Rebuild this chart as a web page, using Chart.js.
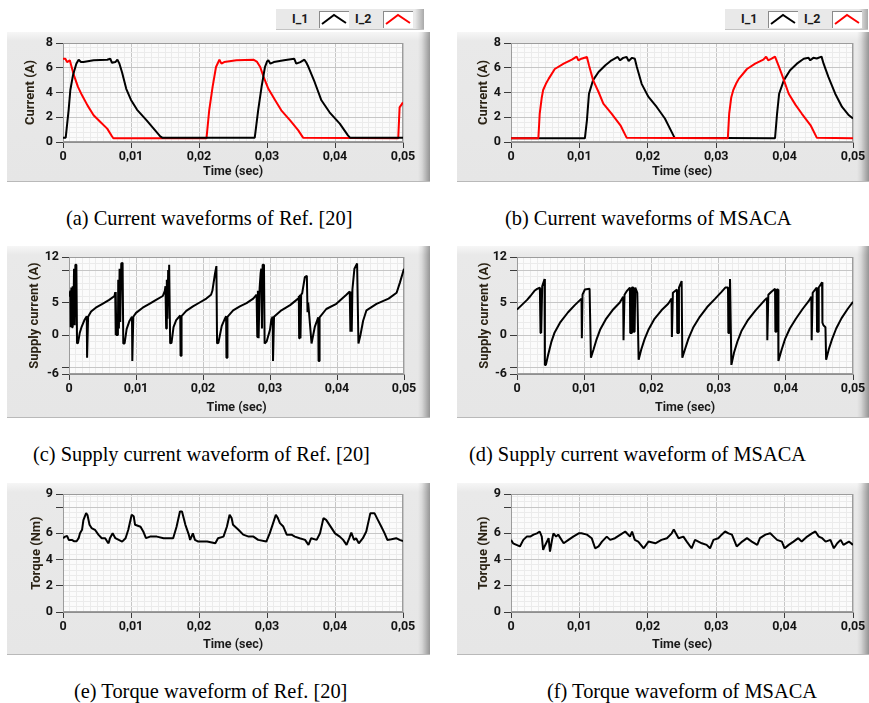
<!DOCTYPE html>
<html><head><meta charset="utf-8">
<script src="https://cdn.jsdelivr.net/npm/chart.js@4.4.1/dist/chart.umd.min.js"></script>
<style>
html,body{margin:0;padding:0;background:#fff}
body{width:869px;height:703px;position:relative;overflow:hidden}
.panel{position:absolute;background:linear-gradient(to right,rgba(0,0,0,0) calc(100% - 12px),rgba(0,0,0,0.07) calc(100% - 8px),rgba(0,0,0,0.36) 100%),linear-gradient(to bottom,#f6f6f6 0px,#e9e9e9 9px,#e6e6e6 100%);box-shadow:inset 0 -1px 0 #b9b9b9}
.panel canvas{position:absolute;left:0;top:0}
.cap{position:absolute;font-family:"Liberation Serif","Times New Roman",serif;font-size:20.4px;color:#000;white-space:nowrap;line-height:1}
.lg{position:absolute;height:21px;background:linear-gradient(to right,#e9e9e9 calc(100% - 9px),#a9a9a9 100%);box-shadow:inset 0 -1px 0 #c4c4c4}
.lt{position:absolute;top:2px;font:bold 12.5px Roboto,sans-serif;color:#1a1a1a}
.lb{position:absolute;top:2px;width:30px;height:17px;background:#fff;box-shadow:inset 1px 1px 0 #8a8a8a}
.lb svg{position:absolute;left:0;top:0}
</style></head>
<body>
<div class="lg" style="left:276px;top:9px;width:148px">
  <span class="lt" style="left:16px">I_1</span>
  <div class="lb" style="left:43px"><svg width="30" height="17"><polyline points="3,13 15,4 27,12" fill="none" stroke="#000" stroke-width="2"/></svg></div>
  <span class="lt" style="left:79px">I_2</span>
  <div class="lb" style="left:107px"><svg width="30" height="17"><polyline points="3,13 15,4 27,12" fill="none" stroke="#f00" stroke-width="2"/></svg></div>
</div>
<div class="lg" style="left:725px;top:9px;width:143px">
  <span class="lt" style="left:16px">I_1</span>
  <div class="lb" style="left:43px"><svg width="30" height="17"><polyline points="3,13 15,4 27,12" fill="none" stroke="#000" stroke-width="2"/></svg></div>
  <span class="lt" style="left:79px">I_2</span>
  <div class="lb" style="left:107px"><svg width="30" height="17"><polyline points="3,13 15,4 27,12" fill="none" stroke="#f00" stroke-width="2"/></svg></div>
</div>

<div class="panel" id="pa"><canvas id="ca"></canvas></div>
<div class="panel" id="pb"><canvas id="cb"></canvas></div>
<div class="panel" id="pc"><canvas id="cc"></canvas></div>
<div class="panel" id="pd"><canvas id="cd"></canvas></div>
<div class="panel" id="pe"><canvas id="ce"></canvas></div>
<div class="panel" id="pf"><canvas id="cf"></canvas></div>

<div class="cap" style="left:66px;top:208px">(a) Current waveforms of Ref. [20]</div>
<div class="cap" style="left:505px;top:208px">(b) Current waveforms of MSACA</div>
<div class="cap" style="left:33px;top:444px">(c) Supply current waveform of Ref. [20]</div>
<div class="cap" style="left:469px;top:444px">(d) Supply current waveform of MSACA</div>
<div class="cap" style="left:74px;top:681px">(e) Torque waveform of Ref. [20]</div>
<div class="cap" style="left:547px;top:681px">(f) Torque waveform of MSACA</div>

<script>
// ---------- axis ticks ----------
const xTickValues = [0, 0.01, 0.02, 0.03, 0.04, 0.05];
const xTickLabels = ['0', '0,01', '0,02', '0,03', '0,04', '0,05'];
const curTickValues = [0, 2, 4, 6, 8];
const curTickLabels = ['0', '2', '4', '6', '8'];
const supTickValues = [-6, -5, 0, 5, 10, 12];
const supTickLabels = ['-6', '', '0', '5', '', '12'];
const torTickValues = [0, 2, 4, 6, 8, 9];
const torTickLabels = ['0', '2', '4', '6', '', '9'];

// ---------- data: [time (ms), value] ----------
// (a) Ref. [20] phase currents
const refI1 = [[0,0.35],[0.4,0.35],[0.83,2.6],[1.08,4.2],[1.47,5.4],[1.96,6.33],[2.3,6.65],[2.64,6.46],[3.0,6.46],[4.5,6.6],[6.5,6.65],[6.95,6.73],[7.2,6.4],[7.7,6.46],[8.0,6.65],[8.3,6.33],[8.7,5.6],[9.3,4.3],[10.0,3.4],[10.9,2.6],[12.3,1.75],[13.3,1.1],[14.3,0.45],[14.6,0.35],[28.2,0.35],[28.7,2.56],[29.2,4.45],[29.7,6.06],[30.0,6.5],[30.2,6.6],[30.5,6.33],[31.0,6.46],[32.5,6.6],[34.0,6.73],[34.3,6.33],[34.9,6.46],[35.5,6.65],[35.8,6.4],[36.1,6.06],[37.0,4.85],[38.0,3.37],[39.2,2.4],[40.7,1.48],[41.9,0.54],[42.2,0.35],[50,0.35]];
const refI2 = [[0,6.73],[0.34,6.73],[0.6,6.46],[1.0,6.6],[1.2,6.2],[1.6,5.4],[2.2,4.45],[2.8,3.77],[3.6,2.96],[4.5,2.16],[5.5,1.62],[6.5,1.08],[7.2,0.46],[7.4,0.3],[21.1,0.3],[21.5,2.56],[22.0,4.45],[22.5,6.06],[23.0,6.65],[23.3,6.33],[23.7,6.46],[25.5,6.6],[28.0,6.65],[28.5,6.5],[29.0,6.06],[29.5,5.26],[30.2,4.3],[31.2,3.37],[32.1,2.56],[33.4,1.75],[34.6,0.94],[35.3,0.35],[49.3,0.3],[49.5,2.8],[50,3.2]];
// (b) MSACA phase currents
const msaI1 = [[0,0.3],[10.8,0.3],[11.1,1.75],[11.4,3.9],[12.0,5.0],[12.8,5.66],[13.8,6.2],[14.7,6.6],[15.6,6.87],[15.95,6.6],[16.4,6.8],[16.9,6.87],[17.2,6.55],[17.7,6.8],[18.1,6.73],[18.4,6.06],[19.1,4.7],[20.1,3.64],[21.3,2.83],[22.5,1.9],[23.5,0.8],[23.9,0.35],[38.6,0.3],[38.9,2.3],[39.2,3.9],[39.9,5.0],[40.8,5.8],[41.8,6.33],[42.8,6.73],[43.5,6.8],[43.75,6.6],[44.2,6.8],[44.7,6.75],[45.4,6.9],[45.7,6.33],[46.4,5.26],[47.4,3.9],[48.4,2.83],[49.4,2.16],[50,1.9]];
const msaI2 = [[0,0.3],[4.0,0.3],[4.2,2.3],[4.5,3.6],[4.7,4.2],[5.1,4.7],[5.5,5.1],[6.4,5.9],[7.7,6.33],[8.9,6.65],[9.6,6.9],[9.85,6.6],[10.3,6.73],[11.1,6.87],[11.4,6.2],[12.0,5.0],[12.8,4.04],[13.5,3.1],[14.7,2.3],[16.0,1.35],[16.9,0.35],[31.7,0.3],[31.9,2.3],[32.2,3.6],[32.5,4.2],[32.9,4.7],[33.3,5.1],[34.5,5.9],[35.7,6.33],[36.9,6.65],[37.3,6.9],[37.6,6.6],[38.1,6.73],[38.6,6.9],[39.1,6.2],[39.9,5.0],[40.6,3.9],[41.6,3.0],[42.5,2.3],[43.8,1.35],[44.7,0.35],[50,0.3]];
// (c) Ref. [20] supply current
const refSupply = [[0,5.9],[0.2,6.8],[0.25,1.2],[0.35,7.3],[0.45,1.2],[0.55,7.5],[0.65,1.5],[0.75,10.2],[0.85,1.5],[0.95,10.8],[1.1,10.8],[1.2,-1.3],[1.35,-1.2],[1.6,0.3],[1.9,1.3],[2.3,2.3],[2.65,2.9],[2.7,-3.5],[2.8,-3.5],[2.85,2.8],[3.3,3.6],[4.0,4.2],[5.0,4.8],[6.0,5.4],[6.8,6.0],[6.9,6.6],[6.95,0],[7.0,6.6],[7.05,0],[7.3,0],[7.35,8.5],[7.45,1.0],[7.55,10.2],[7.65,2.0],[7.8,11.0],[8.0,11.1],[8.1,-1.3],[8.3,-1.3],[8.6,0.9],[9.0,2.1],[9.4,2.8],[9.45,-4.0],[9.55,-4.0],[9.6,2.8],[10.0,3.4],[11.0,4.2],[12.0,4.8],[13.0,5.4],[14.0,6.0],[14.3,6.8],[14.4,7.5],[14.5,1.0],[14.6,8.5],[14.7,2.5],[14.8,10.0],[14.9,5.0],[14.95,10.8],[15.0,10.8],[15.1,-1.3],[15.3,-1.2],[15.6,1.2],[16.0,2.3],[16.6,3.0],[16.65,-3.2],[16.75,-3.2],[16.8,2.9],[17.5,3.7],[18.5,4.4],[19.5,5.0],[20.5,5.6],[21.2,6.2],[21.4,6.8],[21.8,9.5],[22.0,10.6],[22.1,-1.3],[22.3,-1.2],[22.8,1.4],[23.3,2.6],[23.45,2.9],[23.5,-3.5],[23.6,-3.5],[23.65,2.8],[24.5,3.8],[25.5,4.4],[26.5,4.9],[27.5,5.6],[28.0,6.2],[28.1,-0.3],[28.2,6.8],[28.3,-0.5],[28.45,7.2],[28.6,9.5],[28.7,10.2],[28.8,1.0],[28.9,10.8],[29.1,10.8],[29.2,-1.3],[29.5,-1.0],[30.0,0.8],[30.2,2.4],[30.4,2.8],[30.45,-4.0],[30.55,-4.0],[30.6,2.8],[31.7,3.8],[33.0,4.6],[34.2,5.6],[34.3,6.0],[34.35,-0.5],[34.45,6.2],[34.55,-0.5],[34.65,6.2],[34.8,6.4],[35.2,8.9],[35.5,9.1],[35.6,3.5],[35.7,5.0],[36.2,-1.3],[36.7,1.3],[37.2,2.7],[37.25,-4.0],[37.35,-4.0],[37.4,2.7],[38.4,4.0],[39.9,4.8],[41.4,6.2],[41.9,6.7],[42.0,0.5],[42.1,6.7],[42.2,0.5],[42.3,7.0],[42.6,10.2],[43.0,11.0],[43.2,-1.3],[43.5,0],[43.9,2.2],[44.4,3.8],[45.9,4.8],[47.7,5.6],[48.9,6.5],[49.4,8.1],[50,10.2]];
// (d) MSACA supply current
const msaSupply = [[0,3.9],[0.5,4.4],[1.0,4.9],[1.5,5.4],[2.0,6.0],[2.6,6.8],[3.0,7.1],[3.4,7.3],[3.5,0.3],[3.55,7.2],[3.6,0.3],[3.7,0.3],[3.75,7.5],[4.1,8.6],[4.15,-4.6],[4.3,-4.6],[4.6,-3.2],[5.1,-1.1],[5.6,0.4],[6.4,1.9],[7.6,3.5],[8.6,4.6],[9.6,5.6],[9.65,-0.5],[9.75,6.2],[10.1,7.0],[10.8,7.1],[11.0,-3.5],[11.4,-2.2],[11.8,-0.8],[12.4,0.9],[13.2,2.4],[14.2,3.8],[15.3,5.0],[15.8,5.9],[15.85,-0.8],[16.0,6.2],[16.3,6.7],[16.8,7.3],[16.85,0.3],[17.0,0.3],[17.1,7.3],[17.3,7.3],[17.35,0.5],[17.5,0.5],[17.6,7.3],[17.9,6.5],[18.1,-3.8],[18.5,-2.2],[19.0,-0.6],[19.6,0.9],[20.4,2.4],[21.5,3.8],[22.5,4.8],[23.0,5.6],[23.05,-0.3],[23.2,6.5],[23.8,7.0],[23.85,0.3],[24.0,0.3],[24.1,7.3],[24.5,8.3],[24.6,-3.5],[25.0,-2.2],[25.5,-0.6],[26.2,1.1],[27.2,2.8],[28.3,4.3],[29.5,5.6],[30.4,6.6],[31.0,7.3],[31.4,7.3],[31.45,0.3],[31.6,0.3],[31.7,8.6],[31.9,-4.6],[32.3,-2.7],[32.8,-1.0],[33.4,0.6],[34.3,2.2],[35.5,3.8],[36.9,5.4],[37.2,5.7],[37.25,-0.8],[37.4,6.2],[37.9,6.7],[38.4,7.1],[38.45,0.5],[38.6,0.5],[38.7,7.0],[38.85,7.0],[38.9,-4.0],[39.4,-2.2],[39.9,-0.6],[40.6,1.0],[41.5,2.5],[42.5,4.0],[43.4,5.2],[43.8,5.9],[43.85,-0.8],[44.0,6.5],[44.6,7.3],[44.65,0.5],[44.8,0.5],[44.9,7.3],[45.4,8.1],[45.45,1.9],[45.6,1.5],[45.9,1.2],[46.0,-3.8],[46.4,-2.2],[46.9,-0.6],[47.5,1.0],[48.3,2.6],[49.2,4.0],[50,5.1]];
// (e) Ref. [20] torque
const refTorque = [[0,5.63],[0.3,5.75],[0.6,5.8],[0.85,5.5],[1.3,5.5],[1.6,5.4],[2.0,5.4],[2.3,5.63],[2.5,6.0],[2.8,6.27],[3.0,7.0],[3.4,7.54],[3.6,7.4],[3.9,6.65],[4.2,6.4],[4.7,6.27],[5.2,5.9],[5.7,5.63],[6.2,5.63],[6.5,5.37],[6.7,5.24],[6.9,5.63],[7.3,6.0],[7.7,5.63],[8.2,5.5],[8.7,5.37],[9.2,5.63],[9.6,6.27],[10.1,7.42],[10.4,7.3],[10.6,6.65],[11.4,6.5],[11.8,6.14],[12.2,5.63],[12.8,5.75],[13.8,5.75],[14.8,5.63],[16.2,5.63],[16.7,6.5],[17.2,7.67],[17.5,7.67],[18.0,6.65],[18.5,5.9],[18.7,5.5],[19.1,6.0],[19.4,5.5],[19.9,5.37],[21.2,5.37],[22.4,5.24],[22.8,5.63],[23.6,5.75],[24.1,6.5],[24.5,7.42],[24.8,7.16],[25.0,6.65],[25.8,6.27],[26.5,5.9],[27.3,5.75],[28.0,5.75],[28.7,5.5],[29.9,5.37],[30.4,6.0],[30.9,6.78],[31.3,7.42],[31.6,7.16],[31.9,6.78],[32.4,6.52],[32.9,5.9],[33.6,5.9],[34.1,5.75],[34.8,5.63],[35.6,5.5],[36.1,5.12],[36.5,5.63],[37.3,5.5],[37.8,6.0],[38.3,7.16],[38.7,7.03],[39.5,6.4],[40.0,6.0],[40.7,5.75],[41.2,5.5],[41.7,5.12],[42.1,5.63],[42.4,6.06],[42.8,5.5],[43.1,5.63],[43.5,5.24],[44.1,5.63],[44.6,6.14],[45.2,7.54],[45.8,7.54],[46.3,7.03],[46.8,6.52],[47.3,6.0],[47.7,5.5],[48.3,5.55],[49.0,5.63],[49.5,5.5],[50,5.42]];
// (f) MSACA torque
const msaTorque = [[0,5.5],[0.3,5.24],[0.8,5.12],[1.3,5.0],[1.8,5.5],[2.3,5.75],[2.8,5.75],[3.3,5.9],[3.8,6.0],[4.2,6.14],[4.5,5.75],[4.7,4.73],[4.9,5.0],[5.5,5.63],[5.7,4.6],[6.0,5.5],[6.2,6.0],[6.6,5.75],[6.9,5.9],[7.7,5.24],[8.4,5.5],[9.1,5.75],[9.9,6.0],[10.3,6.0],[11.1,5.9],[11.8,5.63],[12.3,4.86],[12.8,5.0],[13.3,5.37],[14.0,5.75],[14.5,5.5],[15.2,5.63],[16.0,5.9],[16.7,6.14],[17.4,5.75],[17.7,6.14],[18.1,5.5],[18.6,5.37],[19.4,4.86],[20.1,5.37],[21.1,5.24],[22.0,5.5],[22.8,5.63],[23.5,6.0],[23.8,6.3],[24.1,6.0],[24.5,5.63],[25.2,5.75],[25.7,5.37],[26.4,4.86],[26.9,5.5],[27.9,5.24],[28.6,5.12],[29.1,4.86],[29.6,5.5],[30.3,5.63],[30.8,5.9],[31.3,6.14],[31.8,6.0],[32.3,5.9],[33.0,5.0],[33.8,5.37],[34.5,5.63],[35.2,5.37],[36.0,5.12],[36.4,5.63],[37.2,5.9],[37.9,6.0],[38.4,5.75],[38.9,5.5],[39.6,5.37],[40.0,4.86],[40.6,5.12],[41.3,5.37],[42.0,5.63],[42.5,5.37],[43.3,5.75],[44.0,6.0],[44.5,6.14],[45.0,5.75],[45.5,5.63],[46.0,5.37],[46.7,5.5],[47.2,4.86],[47.7,5.24],[48.2,5.5],[48.6,5.12],[49.4,5.37],[50,5.12]];

// ---------- layout (page pixels) ----------
const panels = [
  {id:'a', box:[7,32,423,150], plot:[63,43,403,142], ytc:31, xtc:172, yTitle:'Current (A)', yMin:0, yMax:8, yt:curTickValues, yl:curTickLabels, yMinor:0.4,
   series:[{d:refI1,c:'#000000'},{d:refI2,c:'#ff0000'}]},
  {id:'b', box:[457,32,412,150], plot:[511,43,853,142], ytc:484, xtc:172, yTitle:'Current (A)', yMin:0, yMax:8, yt:curTickValues, yl:curTickLabels, yMinor:0.4,
   series:[{d:msaI2,c:'#ff0000'},{d:msaI1,c:'#000000'}]},
  {id:'c', box:[7,246,423,172], plot:[69,257,404,374], ytc:35, xtc:408, yTitle:'Supply current (A)', yMin:-6, yMax:12, yt:supTickValues, yl:supTickLabels, yMinor:1,
   series:[{d:refSupply,c:'#000000'}]},
  {id:'d', box:[457,246,412,172], plot:[517,257,853,374], ytc:485, xtc:408, yTitle:'Supply current (A)', yMin:-6, yMax:12, yt:supTickValues, yl:supTickLabels, yMinor:1,
   series:[{d:msaSupply,c:'#000000'}]},
  {id:'e', box:[7,483,423,172], plot:[63,494,403,612], ytc:37, xtc:645, yTitle:'Torque (Nm)', yMin:0, yMax:9, yt:torTickValues, yl:torTickLabels, yMinor:0.4,
   series:[{d:refTorque,c:'#000000'}]},
  {id:'f', box:[457,483,412,172], plot:[511,494,853,612], ytc:484, xtc:645, yTitle:'Torque (Nm)', yMin:0, yMax:9, yt:torTickValues, yl:torTickLabels, yMinor:0.4,
   series:[{d:msaTorque,c:'#000000'}]}
];

const FONT = 'Roboto, "Noto Sans", sans-serif';
const MAJ = '#c6c6c6', MIN = '#ebebeb';
const near = (a,b) => Math.abs(a-b) < 1e-9;

const plotBg = {
  id:'plotBg',
  beforeDraw(chart){ const a=chart.chartArea, c=chart.ctx; c.save(); c.fillStyle='#fbfbfb'; c.fillRect(a.left,a.top,a.right-a.left,a.bottom-a.top); c.restore(); },
  beforeDatasetsDraw(chart){ const a=chart.chartArea, c=chart.ctx; c.save(); c.strokeStyle='#9c9c9c'; c.lineWidth=1; c.strokeRect(Math.round(a.left)+0.5,Math.round(a.top)+0.5,Math.round(a.right-a.left)-1,Math.round(a.bottom-a.top)-1); c.restore(); }
};

panels.forEach(p => {
  const [bx,by,bw,bh] = p.box;
  const div = document.getElementById('p'+p.id);
  div.style.left = bx+'px'; div.style.top = by+'px'; div.style.width = bw+'px'; div.style.height = bh+'px';
  const cv = document.getElementById('c'+p.id);
  cv.width = bw; cv.height = bh; cv.style.width = bw+'px'; cv.style.height = bh+'px';
  const left = p.plot[0]-bx, top = p.plot[1]-by, right = bx+bw-p.plot[2], bottom = by+bh-p.plot[3];
  const lhX = 12.5*1.2, lhY = 13*1.2;
  const xGrid = []; for (let i=0;i<=50;i++) xGrid.push(Math.round(i*1e-3*1e6)/1e6);
  const yGrid = []; const n = Math.round((p.yMax-p.yMin)/p.yMinor);
  for (let i=0;i<=n;i++) yGrid.push(Math.round((p.yMin+i*p.yMinor)*1e6)/1e6);
  p.yt.forEach(v => { if (!yGrid.some(g=>near(g,v))) yGrid.push(v); });
  yGrid.sort((a,b)=>a-b);
  const isXMaj = v => xTickValues.some(t=>near(t,v));
  const isYMaj = v => p.yt.some(t=>near(t,v));
  new Chart(cv, {
    type:'line',
    data:{ datasets: p.series.map(s => ({ data: s.d.map(q => ({x:q[0]/1000, y:q[1]})), borderColor:s.c, borderWidth:2, pointRadius:0, tension:0, fill:false, borderJoinStyle:'bevel' })) },
    options:{
      responsive:false, animation:false, devicePixelRatio:1,
      layout:{ padding:{left:0, top:top, right:right, bottom:0} },
      plugins:{ legend:{display:false}, tooltip:{enabled:false} },
      scales:{
        x:{ type:'linear', min:0, max:0.05,
          afterBuildTicks: s => { s.ticks = xGrid.map(v=>({value:v})); },
          afterFit: s => { s.height = bottom; s.paddingLeft = 0; s.paddingRight = 0; },
          ticks:{ autoSkip:false, maxRotation:0, minRotation:0, padding:1, color:'#141414', font:{family:FONT, weight:'bold', size:12.5},
            callback: v => { const i = xTickValues.findIndex(t=>near(t,v)); return i>=0 ? xTickLabels[i] : ''; } },
          grid:{ color: c => isXMaj(c.tick.value) ? MAJ : MIN, tickColor: c => isXMaj(c.tick.value) ? '#3a3a3a' : 'rgba(0,0,0,0)', tickLength:6, lineWidth:1 },
          border:{ color:'#8e8e8e' },
          title:{ display:true, text:'Time (sec)', color:'#1a1a1a', font:{family:FONT, weight:'bold', size:12.5}, padding:{top:0, bottom:(by+bh-p.xtc) - lhX/2} }
        },
        y:{ type:'linear', min:p.yMin, max:p.yMax,
          afterBuildTicks: s => { s.ticks = yGrid.map(v=>({value:v})); },
          afterFit: s => { s.width = left; },
          ticks:{ autoSkip:false, padding:3, color:'#141414', font:{family:FONT, weight:'bold', size:12.5},
            callback: v => { const i = p.yt.findIndex(t=>near(t,v)); return i>=0 ? p.yl[i] : ''; } },
          grid:{ color: c => isYMaj(c.tick.value) ? MAJ : MIN, tickColor: c => isYMaj(c.tick.value) ? '#3a3a3a' : 'rgba(0,0,0,0)', tickLength:7, lineWidth:1 },
          border:{ color:'#8e8e8e' },
          title:{ display:true, text:p.yTitle, color:'#2a2214', font:{family:FONT, weight:'bold', size:13}, padding:{top:(p.ytc-bx) - lhY/2, bottom:0} }
        }
      }
    },
    plugins:[plotBg]
  });
});
</script>
</body></html>
